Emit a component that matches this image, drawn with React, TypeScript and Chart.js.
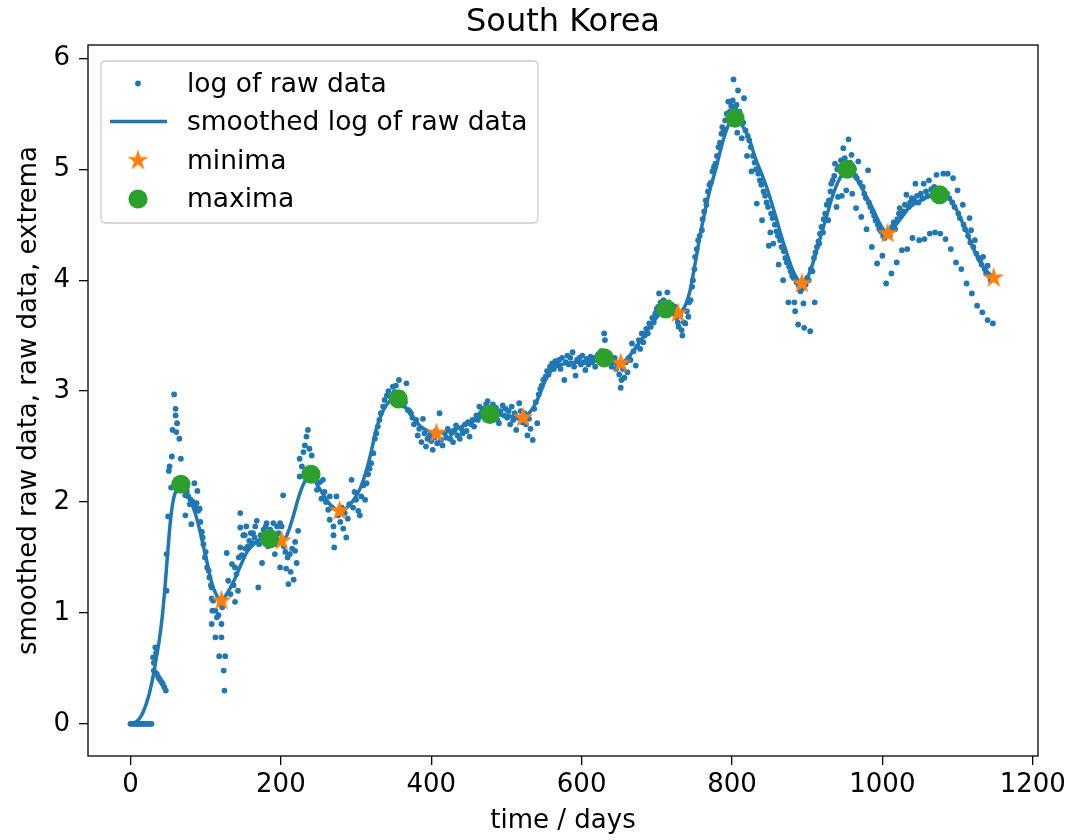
import React, { useEffect, useRef } from "react";
import { Chart, registerables } from "chart.js";

Chart.register(...registerables);

// ---------- data ----------
const chartTitle = "South Korea";
const xAxisLabel = "time / days";
const yAxisLabel = "smoothed raw data, raw data, extrema";
const xTickValues = [0, 200, 400, 600, 800, 1000, 1200];
const yTickValues = [0, 1, 2, 3, 4, 5, 6];
const legendLabels = ["log of raw data", "smoothed log of raw data", "minima", "maxima"];

// raw data (log), [day, value]
const rawStart: [number, number][] = [
  [0, 0], [2, 0], [4, 0], [6, 0], [8, 0], [10, 0], [12, 0], [14, 0], [16, 0], [18, 0], [20, 0], [22, 0], [24, 0], [26, 0], [28, 0],
  [30, 0.6], [31, 0.55], [33, 0.69], [34, 0.64], [31, 0.48], [33, 0.46], [35, 0.45], [37, 0.42], [39, 0.4], [41, 0.38], [43, 0.36], [45, 0.33], [47, 0.3],
  [48, 1.2], [48, 1.53], [50, 1.87], [51, 2.28], [52, 2.32], [54, 2.13], [55, 2.41], [56, 2.65], [58, 2.97],
];
const rawWave1: [number, number][] = [
  [60, 2.84], [60, 2.78], [61, 2.63], [62, 2.71], [65, 2.57], [67, 2.39], [69, 2.2], [71, 2.12], [73, 2.06], [73, 1.88], [75, 2.1], [77, 2.05],
  [79, 1.98], [80, 2.02], [81, 1.8], [83, 2.0], [85, 2.17], [86, 1.95], [88, 1.99], [89, 2.1], [90, 1.92], [92, 1.94], [93, 1.82], [95, 1.73],
  [96, 1.68], [97, 1.62], [99, 1.5], [100, 1.55], [102, 1.41], [104, 1.38], [105, 1.32], [107, 1.25], [108, 1.23], [108, 1.13], [109, 1.02],
  [108, 0.9], [110, 1.11], [113, 1.02], [113, 0.78], [115, 0.96], [117, 0.98], [118, 0.61], [119, 1.08], [121, 0.9], [121, 0.78], [122, 1.05],
  [124, 0.48], [125, 0.3], [126, 0.61],
];
const rawWave2: [number, number][] = [
  [128, 1.54], [130, 1.29], [133, 1.17], [135, 1.44], [137, 1.25], [139, 1.1], [139, 1.41], [141, 1.35], [143, 1.2], [144, 1.5], [146, 1.59],
  [146, 1.77], [146, 1.9], [148, 1.52], [150, 1.7], [152, 1.7], [153, 1.58], [154, 1.78], [156, 1.6], [158, 1.65], [160, 1.72], [162, 1.63],
  [163, 1.72], [165, 1.68], [166, 1.78], [168, 1.83], [170, 1.23], [171, 1.62], [173, 1.7], [175, 1.45], [177, 1.75], [178, 1.66], [180, 1.78],
  [181, 1.81], [183, 1.6], [186, 1.75], [188, 1.7], [190, 1.81], [192, 1.53], [193, 1.62], [195, 1.78], [197, 1.72], [199, 1.81], [199, 1.41],
  [201, 1.78], [203, 2.06], [204, 1.6], [206, 1.55], [207, 1.4], [209, 1.5], [210, 1.26], [212, 1.53], [213, 1.37], [215, 1.58], [217, 1.3],
  [219, 1.56], [219, 1.64], [221, 1.45], [223, 1.74], [225, 2.23], [225, 2.39], [228, 2.32], [230, 2.45], [232, 2.51], [234, 2.59], [236, 2.65],
  [238, 2.48], [241, 2.42], [243, 2.3], [246, 2.25], [248, 2.11], [252, 2.18], [254, 2.03], [256, 2.2], [258, 2.09], [260, 2.0], [263, 1.93],
  [265, 2.05], [265, 1.84], [268, 1.95], [270, 1.78], [270, 1.7], [271, 1.59], [274, 2.05], [276, 1.88], [279, 1.82], [281, 1.95], [283, 1.76],
  [285, 1.9], [287, 1.68], [289, 1.85], [291, 1.98], [294, 2.2], [296, 1.95], [298, 2.09],
];
const rawPlateau: [number, number][] = [
  [300, 2.02], [303, 1.92], [305, 1.88], [307, 2.05], [310, 2.15], [312, 2.02], [314, 2.17], [316, 2.25], [318, 2.3], [320, 2.35], [323, 2.44],
  [325, 2.57], [327, 2.62], [329, 2.68], [331, 2.74], [333, 2.8], [336, 2.86], [338, 2.92], [341, 2.96], [343, 3.0], [346, 2.95], [349, 3.04],
  [351, 2.99], [353, 3.05], [355, 2.95], [357, 3.1], [359, 2.92], [361, 2.98], [363, 2.87], [365, 2.9], [367, 3.07], [369, 2.83], [371, 2.82],
  [373, 2.8], [375, 2.76], [377, 2.7], [380, 2.74], [382, 2.6], [384, 2.66], [387, 2.54], [389, 2.75], [391, 2.62], [393, 2.5], [395, 2.57],
  [398, 2.6], [400, 2.55], [402, 2.47], [404, 2.58], [406, 2.64], [408, 2.53], [411, 2.8], [413, 2.56], [415, 2.51], [418, 2.62], [420, 2.58],
  [422, 2.66], [425, 2.57], [427, 2.62], [429, 2.54], [431, 2.64], [433, 2.69], [435, 2.6], [438, 2.57], [440, 2.66], [442, 2.62], [445, 2.7],
  [447, 2.64], [449, 2.72], [451, 2.59], [453, 2.7], [455, 2.74], [457, 2.68], [460, 2.78], [462, 2.74], [464, 2.86], [466, 2.8], [468, 2.84],
  [471, 2.76], [473, 2.88], [475, 2.91], [477, 2.84], [480, 2.78], [482, 2.88], [484, 2.8], [486, 2.85], [488, 2.74], [490, 2.71], [492, 2.82],
  [495, 2.87], [497, 2.78], [499, 2.84], [501, 2.76], [503, 2.82], [505, 2.7], [507, 2.86], [509, 2.74], [511, 2.8], [513, 2.65], [515, 2.76],
  [517, 2.89], [519, 2.82], [521, 2.72], [524, 2.8], [526, 2.7], [528, 2.6], [530, 2.75], [532, 2.66], [535, 2.56], [537, 2.84], [539, 2.9],
  [541, 2.71], [543, 2.97], [545, 3.02], [547, 3.05], [549, 3.1], [552, 3.13], [554, 3.18], [556, 3.15], [558, 3.22],
];
const rawRise: [number, number][] = [
  [561, 3.25], [563, 3.2], [565, 3.27], [567, 3.24], [570, 3.28], [572, 3.2], [574, 3.3], [577, 3.1], [579, 3.26], [581, 3.32], [583, 3.24],
  [585, 3.3], [588, 3.35], [590, 3.22], [592, 3.14], [594, 3.28], [597, 3.3], [599, 3.24], [601, 3.32], [603, 3.26], [605, 3.19], [607, 3.29],
  [609, 3.24], [612, 3.31], [614, 3.26], [616, 3.3], [618, 3.22], [620, 3.28], [622, 3.33], [624, 3.27], [626, 3.36], [628, 3.3], [630, 3.52],
  [631, 3.46], [633, 3.34], [635, 3.28], [637, 3.32], [640, 3.22], [642, 3.26], [644, 3.3], [646, 3.2], [648, 3.24], [650, 3.15], [652, 3.03],
  [653, 3.1], [655, 3.2], [657, 3.12], [659, 3.26], [661, 3.17], [663, 3.3], [665, 3.28], [667, 3.43], [669, 3.36], [672, 3.23], [674, 3.4],
  [676, 3.46], [678, 3.38], [680, 3.52], [682, 3.44], [684, 3.5], [686, 3.56], [688, 3.52], [690, 3.61], [692, 3.58], [694, 3.66], [696, 3.62],
  [698, 3.7], [700, 3.74], [702, 3.76], [703, 3.88], [705, 3.8], [707, 3.72], [709, 3.82], [711, 3.76], [714, 3.89], [716, 3.8], [718, 3.74],
  [720, 3.78], [722, 3.7], [724, 3.76], [726, 3.66], [728, 3.62], [729, 3.58], [731, 3.68], [733, 3.55], [734, 3.5], [736, 3.62], [738, 3.61],
  [740, 3.72], [742, 3.67], [743, 3.8], [745, 3.82], [747, 3.94], [748, 4.0], [750, 4.1],
];
const rawPeak: [number, number][] = [
  [751, 4.21], [753, 4.28], [755, 4.36], [757, 4.4], [760, 4.45], [761, 4.55], [763, 4.62], [765, 4.72], [766, 4.68], [768, 4.8], [770, 4.86],
  [772, 4.88], [774, 4.98], [776, 5.02], [778, 5.05], [780, 5.12], [782, 5.2], [784, 5.24], [786, 5.32], [787, 5.38], [789, 5.36], [791, 5.44],
  [793, 5.5], [795, 5.61], [797, 5.52], [799, 5.57], [801, 5.62], [802, 5.81], [804, 5.55], [806, 5.58], [807, 5.33], [808, 5.71], [810, 5.52],
  [812, 5.45], [813, 5.28], [815, 5.42], [816, 5.64], [818, 5.35], [820, 5.12], [821, 5.3], [823, 5.26], [825, 5.2], [826, 4.98], [828, 5.12],
  [830, 5.06], [832, 5.0], [833, 4.69], [835, 4.96], [837, 4.9], [839, 4.86], [840, 4.54], [842, 4.8], [844, 4.76], [846, 4.7], [848, 4.66],
  [849, 4.31], [851, 4.43], [852, 4.6], [854, 4.56], [855, 4.33], [857, 4.5], [859, 4.44], [861, 4.4], [862, 4.14], [864, 4.36], [866, 4.3],
  [868, 4.0], [869, 4.26], [871, 4.2], [873, 4.16], [875, 3.8], [876, 4.12], [878, 4.08], [880, 4.04], [882, 4.02], [883, 3.8], [884, 3.72],
  [886, 3.98], [888, 3.6], [889, 3.95], [891, 3.9], [893, 3.92], [895, 3.79], [896, 3.57], [898, 3.96], [900, 4.02], [902, 4.0], [904, 3.54],
  [905, 4.1],
];
const rawLate: [number, number][] = [
  [907, 4.08], [909, 4.2], [910, 3.8], [911, 4.25], [913, 4.3], [915, 4.35], [916, 4.33], [917, 4.42], [919, 4.48], [921, 4.43], [922, 4.55],
  [924, 4.6], [926, 4.68], [928, 4.54], [929, 4.72], [931, 4.8], [932, 4.87], [934, 4.9], [936, 4.94], [937, 5.05], [939, 4.66], [940, 5.0],
  [941, 4.75], [943, 5.02], [945, 5.08], [946, 4.76], [948, 5.19], [950, 5.1], [952, 4.81], [953, 5.04], [955, 5.27], [957, 5.06], [959, 5.13],
  [960, 4.78], [962, 5.0], [964, 4.94], [965, 4.65], [966, 4.92], [968, 5.07], [970, 4.88], [972, 4.57], [974, 4.84], [976, 4.78], [978, 4.74],
  [979, 4.46], [981, 4.99], [982, 4.7], [984, 4.66], [986, 4.3], [987, 4.62], [989, 4.58], [991, 4.54], [993, 4.15], [994, 4.5], [996, 4.46],
  [998, 4.44], [1000, 4.22], [1001, 4.4], [1003, 4.38], [1005, 3.97], [1006, 4.42], [1008, 4.45], [1010, 4.4], [1012, 4.06], [1013, 4.48],
  [1015, 4.52], [1017, 4.46], [1019, 4.16], [1020, 4.55], [1022, 4.6], [1023, 4.65], [1025, 4.58], [1026, 4.27], [1028, 4.62], [1030, 4.68],
  [1032, 4.77], [1033, 4.28], [1035, 4.66], [1037, 4.7], [1039, 4.74], [1040, 4.38], [1042, 4.72], [1044, 4.87], [1046, 4.76], [1048, 4.7],
  [1049, 4.36], [1051, 4.78], [1053, 4.74], [1055, 4.87], [1056, 4.37], [1058, 4.8], [1060, 4.76], [1062, 4.9], [1063, 4.42], [1065, 4.82],
  [1067, 4.78], [1069, 4.84], [1070, 4.43], [1072, 4.95], [1074, 4.8], [1076, 4.76], [1077, 4.42], [1079, 4.82], [1081, 4.96], [1083, 4.76],
  [1084, 4.37], [1086, 4.78], [1087, 4.96], [1089, 4.74], [1091, 4.28], [1093, 4.7], [1094, 4.92], [1096, 4.66], [1098, 4.16], [1100, 4.81],
  [1101, 4.6], [1103, 4.56], [1105, 4.1], [1107, 4.68], [1108, 4.5], [1110, 4.46], [1112, 3.97], [1114, 4.4], [1116, 4.56], [1117, 4.34],
  [1118, 4.45], [1119, 3.88], [1121, 4.3], [1123, 4.36], [1125, 4.24], [1126, 3.77], [1128, 4.2], [1130, 4.18], [1132, 4.14], [1133, 3.71],
  [1134, 4.21], [1136, 4.1], [1138, 4.06], [1140, 3.64], [1140, 4.13], [1142, 4.04], [1144, 4.0], [1147, 3.61], [1148, 4.02],
];

// smoothed log of raw data
const smoothCurve: [number, number][] = [
  [0, 0], [8, 0.02], [15, 0.08], [21, 0.18], [26, 0.3], [31, 0.46], [35, 0.62], [38, 0.74], [42, 0.95], [46, 1.24], [49, 1.5], [53, 1.82],
  [57, 2.02], [62, 2.12], [67, 2.16], [74, 2.1], [80, 2.01], [86, 1.9], [92, 1.75], [97, 1.6], [102, 1.45], [107, 1.3], [113, 1.18], [121, 1.11],
  [128, 1.17], [137, 1.28], [146, 1.42], [155, 1.55], [164, 1.62], [172, 1.66], [185, 1.67], [194, 1.66], [201, 1.65], [208, 1.7], [216, 1.86],
  [223, 2.03], [230, 2.16], [240, 2.25], [248, 2.16], [256, 2.07], [265, 1.98], [278, 1.92], [288, 1.95], [297, 2.02], [306, 2.13], [314, 2.29],
  [320, 2.45], [327, 2.66], [335, 2.81], [345, 2.91], [356, 2.93], [366, 2.85], [376, 2.76], [386, 2.68], [396, 2.64], [407, 2.62], [418, 2.63],
  [429, 2.65], [440, 2.68], [451, 2.71], [462, 2.75], [478, 2.79], [490, 2.785], [500, 2.78], [512, 2.765], [522, 2.76], [530, 2.8], [539, 2.89],
  [546, 3.0], [552, 3.1], [559, 3.18], [566, 3.22], [580, 3.25], [597, 3.26], [615, 3.28], [630, 3.3], [642, 3.28], [652, 3.25], [664, 3.32],
  [676, 3.43], [686, 3.53], [694, 3.61], [703, 3.69], [712, 3.74], [720, 3.73], [728, 3.7], [737, 3.76], [744, 3.9], [751, 4.15], [758, 4.42],
  [765, 4.65], [772, 4.85], [778, 4.99], [785, 5.18], [791, 5.32], [797, 5.42], [804, 5.46], [812, 5.41], [822, 5.29], [831, 5.1], [840, 4.95],
  [847, 4.82], [853, 4.69], [860, 4.53], [866, 4.39], [873, 4.24], [879, 4.12], [886, 4.02], [893, 3.97], [900, 4.02], [906, 4.12], [913, 4.28],
  [919, 4.42], [926, 4.58], [932, 4.72], [940, 4.87], [947, 4.96], [953, 5.0], [960, 4.96], [967, 4.9], [972, 4.84], [979, 4.75], [986, 4.66],
  [993, 4.56], [1000, 4.47], [1007, 4.42], [1016, 4.48], [1025, 4.56], [1034, 4.64], [1043, 4.69], [1052, 4.72], [1061, 4.75], [1069, 4.765],
  [1076, 4.77], [1084, 4.76], [1092, 4.71], [1099, 4.63], [1105, 4.54], [1112, 4.44], [1118, 4.33], [1125, 4.23], [1131, 4.15], [1139, 4.08],
  [1148, 4.02],
];

const minimaDays = [121, 201, 278, 407, 522, 652, 728, 893, 1007, 1148];
const minimaValues = [1.11, 1.65, 1.92, 2.62, 2.76, 3.25, 3.7, 3.97, 4.42, 4.02];
const maximaDays = [67, 185, 240, 356, 478, 630, 712, 804, 953, 1076];
const maximaValues = [2.16, 1.67, 2.25, 2.93, 2.79, 3.3, 3.74, 5.46, 5.0, 4.77];

// ---------- style ----------
const BLUE = "#1f77b4";
const ORANGE = "#ff7f0e";
const GREEN = "#2ca02c";
const FONT = "'DejaVu Sans', sans-serif";
const STAR_R = 11;
const DOT_R = 2.9;
const CIRCLE_R = 9.6;

function makeStar(R: number, color: string): HTMLCanvasElement {
  const size = Math.ceil(R) * 2 + 4;
  const c = document.createElement("canvas");
  c.width = size;
  c.height = size;
  const ctx = c.getContext("2d")!;
  const cx = size / 2;
  const cy = size / 2;
  ctx.beginPath();
  for (let i = 0; i < 10; i++) {
    const r = i % 2 === 0 ? R : R * 0.381966;
    const a = -Math.PI / 2 + (i * Math.PI) / 5;
    const x = cx + r * Math.cos(a);
    const y = cy + r * Math.sin(a);
    if (i === 0) ctx.moveTo(x, y);
    else ctx.lineTo(x, y);
  }
  ctx.closePath();
  ctx.fillStyle = color;
  ctx.fill();
  return c;
}

const toXY = (arr: [number, number][]) => arr.map(([x, y]) => ({ x, y }));

export default function App() {
  const ref = useRef<HTMLCanvasElement>(null);

  useEffect(() => {
    if (!ref.current) return;
    const star = makeStar(STAR_R, ORANGE);
    const rawAll = [...rawStart, ...rawWave1, ...rawWave2, ...rawPlateau, ...rawRise, ...rawPeak, ...rawLate];

    const frameLegend = {
      id: "frameLegend",
      afterDatasetsDraw(chart: any) {
        const { ctx, chartArea: a } = chart;
        ctx.save();
        ctx.strokeStyle = "#000";
        ctx.lineWidth = 1.3;
        ctx.strokeRect(a.left, a.top, a.right - a.left, a.bottom - a.top);

        // title, centred over the plot area
        ctx.fillStyle = "#000";
        ctx.font = `32px ${FONT}`;
        ctx.textAlign = "center";
        ctx.textBaseline = "alphabetic";
        ctx.fillText(chartTitle, (a.left + a.right) / 2, 31);

        // legend box
        const bx = a.left + 13;
        const by = a.top + 16;
        const bw = 437;
        const bh = 162;
        const rr = 5;
        ctx.beginPath();
        ctx.moveTo(bx + rr, by);
        ctx.lineTo(bx + bw - rr, by);
        ctx.quadraticCurveTo(bx + bw, by, bx + bw, by + rr);
        ctx.lineTo(bx + bw, by + bh - rr);
        ctx.quadraticCurveTo(bx + bw, by + bh, bx + bw - rr, by + bh);
        ctx.lineTo(bx + rr, by + bh);
        ctx.quadraticCurveTo(bx, by + bh, bx, by + bh - rr);
        ctx.lineTo(bx, by + rr);
        ctx.quadraticCurveTo(bx, by, bx + rr, by);
        ctx.closePath();
        ctx.fillStyle = "rgba(255,255,255,0.8)";
        ctx.fill();
        ctx.strokeStyle = "#cccccc";
        ctx.lineWidth = 1.3;
        ctx.stroke();

        const mx = bx + 37;
        const baselines = [by + 30.5, by + 69, by + 107.5, by + 146];
        // markers
        ctx.fillStyle = BLUE;
        ctx.beginPath();
        ctx.arc(mx, baselines[0] - 8, DOT_R, 0, Math.PI * 2);
        ctx.fill();
        ctx.strokeStyle = BLUE;
        ctx.lineWidth = 3.5;
        ctx.beginPath();
        ctx.moveTo(bx + 9, baselines[1] - 8.5);
        ctx.lineTo(bx + 66, baselines[1] - 8.5);
        ctx.stroke();
        ctx.drawImage(star, mx - star.width / 2, baselines[2] - 8 - star.height / 2);
        ctx.fillStyle = GREEN;
        ctx.beginPath();
        ctx.arc(mx, baselines[3] - 8, CIRCLE_R, 0, Math.PI * 2);
        ctx.fill();
        // texts
        ctx.fillStyle = "#000";
        ctx.font = `26.5px ${FONT}`;
        ctx.textAlign = "left";
        ctx.textBaseline = "alphabetic";
        legendLabels.forEach((t, i) => ctx.fillText(t, bx + 86, baselines[i]));
        ctx.restore();
      },
    };

    const chart = new Chart(ref.current, {
      type: "scatter",
      data: {
        datasets: [
          {
            label: legendLabels[0],
            data: toXY(rawAll),
            pointRadius: DOT_R,
            pointHoverRadius: DOT_R,
            pointBackgroundColor: BLUE,
            pointBorderWidth: 0,
            borderColor: BLUE,
            order: 4,
          },
          {
            label: legendLabels[1],
            data: toXY(smoothCurve),
            showLine: true,
            borderColor: BLUE,
            borderWidth: 3.5,
            borderJoinStyle: "round",
            pointRadius: 0,
            pointHoverRadius: 0,
            cubicInterpolationMode: "monotone",
            order: 3,
          },
          {
            label: legendLabels[2],
            data: minimaDays.map((d, i) => ({ x: d, y: minimaValues[i] })),
            pointStyle: star as any,
            pointRadius: STAR_R,
            pointHoverRadius: STAR_R,
            order: 2,
          },
          {
            label: legendLabels[3],
            data: maximaDays.map((d, i) => ({ x: d, y: maximaValues[i] })),
            pointRadius: CIRCLE_R,
            pointHoverRadius: CIRCLE_R,
            pointBackgroundColor: GREEN,
            pointBorderWidth: 0,
            borderColor: GREEN,
            order: 1,
          },
        ],
      },
      options: {
        animation: false,
        responsive: false,
        devicePixelRatio: 1,
        events: [],
        layout: { padding: { left: 0, right: 31, top: 45, bottom: 0 } },
        plugins: {
          legend: { display: false },
          tooltip: { enabled: false },
          title: { display: false },
        },
        scales: {
          x: {
            type: "linear",
            min: -56.5,
            max: 1207,
            afterBuildTicks: (s: any) => {
              s.ticks = xTickValues.map((v) => ({ value: v }));
            },
            afterFit: (s: any) => {
              s.height = 84;
            },
            ticks: {
              color: "#000",
              font: { family: FONT, size: 26 },
              padding: 5,
              maxRotation: 0,
              autoSkip: false,
              callback: (v: any) => String(v),
            },
            grid: { drawOnChartArea: false, drawTicks: true, tickLength: 9, color: "#000", lineWidth: 1.3 },
            border: { display: false },
            title: {
              display: true,
              text: xAxisLabel,
              color: "#000",
              font: { family: FONT, size: 26 },
              padding: { top: 0, bottom: 3 },
            },
          },
          y: {
            type: "linear",
            min: -0.29,
            max: 6.12,
            afterBuildTicks: (s: any) => {
              s.ticks = yTickValues.map((v) => ({ value: v }));
            },
            afterFit: (s: any) => {
              s.width = 88;
            },
            ticks: {
              color: "#000",
              font: { family: FONT, size: 26 },
              padding: 9,
              autoSkip: false,
              callback: (v: any) => String(v),
            },
            grid: { drawOnChartArea: false, drawTicks: true, tickLength: 9, color: "#000", lineWidth: 1.3 },
            border: { display: false },
            title: {
              display: true,
              text: yAxisLabel,
              color: "#000",
              font: { family: FONT, size: 26 },
              padding: { top: 14, bottom: 0 },
            },
          },
        },
      },
      plugins: [frameLegend],
    } as any);

    return () => chart.destroy();
  }, []);

  return (
    <div style={{ position: "absolute", left: 0, top: 0, width: 1071, height: 840, background: "#fff" }}>
      <canvas ref={ref} width={1071} height={840} style={{ display: "block" }} />
    </div>
  );
}
